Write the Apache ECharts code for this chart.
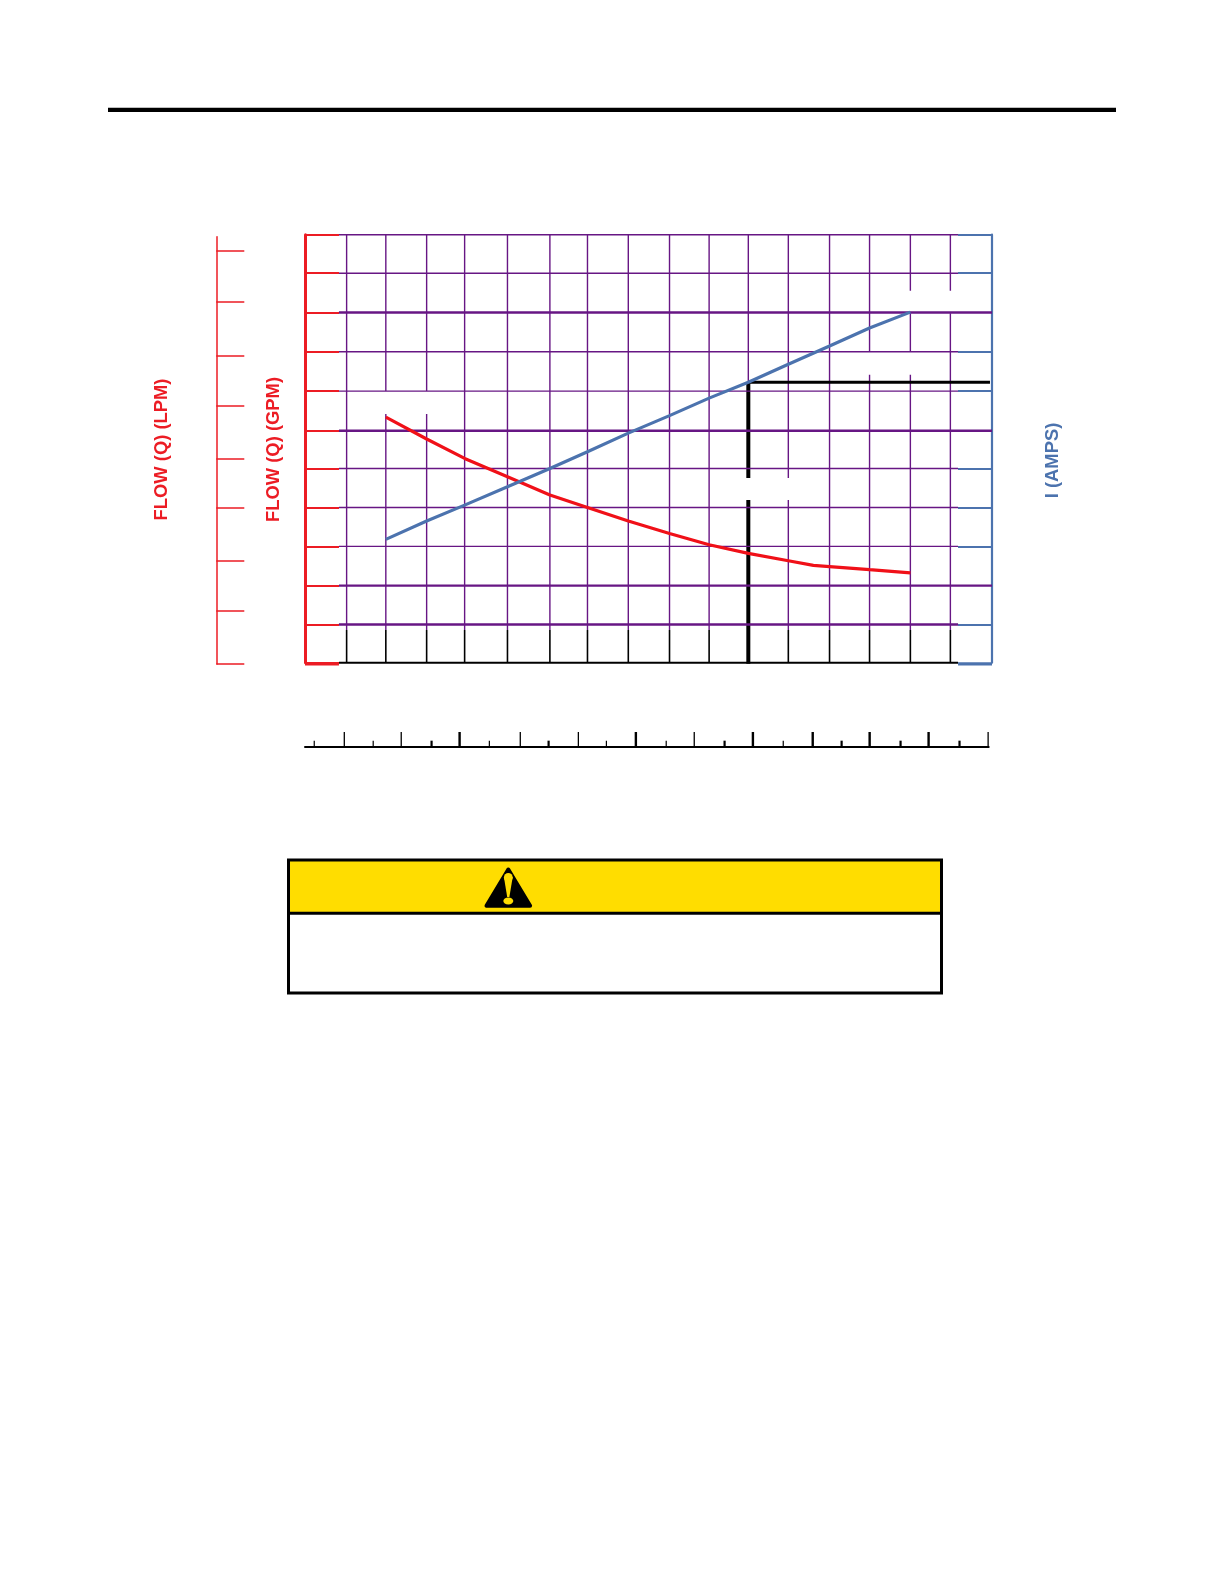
<!DOCTYPE html>
<html>
<head>
<meta charset="utf-8">
<style>html,body{margin:0;padding:0;background:#fff}#c{width:1224px;height:1584px}</style>
<script src="https://cdn.jsdelivr.net/npm/echarts@6/dist/echarts.min.js"></script>
</head>
<body>
<div id="c"></div>
<script>
// ---- data (axis units; the reference's tick labels are blanked out) ----
const verticalGrid = [1.03,2.00,3.01,3.95,5.01,6.06,6.99,8.00,9.02,10.00,10.97,11.96,12.98,13.97,14.98,15.97];
const horizontalThin = [11,10.01,7.99,6.98,4.99,3.99,2.99];
const horizontalThick = [9.00,5.96,1.98];
const horizontalThickShort = [0.98];
const flowX = [2.00,3.01,3.95,5.01,6.06,6.99,8.00,9.02,10.00,10.97,11.96,12.58,12.98,13.97,14.98];
const flowGpm = [6.31,5.75,5.25,4.78,4.31,3.99,3.64,3.32,3.03,2.81,2.62,2.50,2.47,2.39,2.31];
const ampsX = [2.00,3.01,3.95,5.01,6.06,6.99,8.00,9.02,10.00,10.97,11.96,12.98,13.97,14.98];
const amps = [3.17,3.64,4.05,4.52,4.99,5.42,5.90,6.35,6.80,7.21,7.67,8.14,8.60,9.01];
const operatingX = 10.97, operatingY = 7.21, operatingEndX = 16.95;
const lpmTicks = [0,1.03,2.01,3.02,3.98,5.01,5.98,7.01,8.00];
const lowerMajorThin = [1.36,3.33,7.45,9.46,13.47,23.64];
const lowerMajorThick = [5.35,11.45,15.50,17.57,19.54,21.58];
const lowerMinorThin = [0.32,2.36,6.38,10.43,12.50,16.55];
const lowerMinorThick = [4.38,8.43,14.52,18.57,20.61,22.65];
const blankedLabels = [[1.87,6.98,3.15,6.39],[13.15,7.99,15.40,7.40],[14.70,9.56,16.15,8.98],[10.85,4.75,12.10,4.18]];
const leftTicks = [0,0.98,1.98,2.99,3.99,4.99,5.96,6.98,7.99,9.00,10.01,11];
const rightTicks = [0.98,2.99,3.99,4.99,6.98,7.99,10.01,11];
const gridStart = 0.84, gridEnd = 16.16, stubTop = 0.84;

const PURPLE = '#671684', RED = '#ec1c24', BLUE = '#4c73ae';

function segments(list, color, width, z, grid) {
  const g = grid || 0;
  return {
    type: 'custom', coordinateSystem: 'cartesian2d', silent: true, clip: false, z: z,
    xAxisIndex: g === 0 ? 0 : 2, yAxisIndex: g === 0 ? 0 : 3,
    encode: {x: [0, 2], y: [1, 3]},
    data: list,
    renderItem: function (p, api) {
      const a = api.coord([api.value(0), api.value(1)]);
      const b = api.coord([api.value(2), api.value(3)]);
      return {type: 'line', shape: {x1: a[0], y1: a[1], x2: b[0], y2: b[1]},
              style: {stroke: color, lineWidth: width, fill: null}};
    }
  };
}
const masks = {
  type: 'custom', coordinateSystem: 'cartesian2d', silent: true, clip: false, z: 3,
  xAxisIndex: 0, yAxisIndex: 0, encode: {x: [0, 2], y: [1, 3]},
  data: blankedLabels,
  renderItem: function (p, api) {
    const a = api.coord([api.value(0), api.value(1)]);
    const b = api.coord([api.value(2), api.value(3)]);
    return {type: 'rect', shape: {x: a[0], y: a[1], width: b[0] - a[0], height: b[1] - a[1]},
            style: {fill: '#fff'}};
  }
};
const zip = (xs, ys) => xs.map((x, i) => [x, ys[i]]);
const vLines = (xs, a, b) => xs.map(x => [x, a, x, b]);
const hLines = (ys, a, b) => ys.map(y => [a, y, b, y]);
const rotText = (text, x, y, color) => ({
  type: 'text', x: x, y: y, rotation: Math.PI / 2, z: 20,
  style: {text: text, fill: color, align: 'center', verticalAlign: 'middle',
          font: 'bold 18.4px "Liberation Sans", Arial, sans-serif'}
});
const rule = (x1, y1, x2, y2, w) => ({type: 'line', z: 20, shape: {x1, y1, x2, y2},
  style: {stroke: '#000', lineWidth: w}});

const chart = echarts.init(document.getElementById('c'), null, {renderer: 'canvas'});
chart.setOption({
  animation: false,
  backgroundColor: '#fff',
  grid: [
    {left: 305, top: 234.7, width: 687, height: 428},
    {left: 216.3, top: 236.7, width: 28, height: 427.3},
    {left: 305, top: 732, width: 683.7, height: 14.7}
  ],
  xAxis: [
    {gridIndex: 0, type: 'value', min: 0, max: 17, show: false},
    {gridIndex: 1, type: 'value', min: 0, max: 1, show: false},
    {gridIndex: 2, type: 'value', min: 0, max: 23.66, position: 'bottom',
     axisLine: {show: true, onZero: false, lineStyle: {color: '#000', width: 2}},
     axisTick: {show: false}, axisLabel: {show: false}, splitLine: {show: false}}
  ],
  yAxis: [
    {gridIndex: 0, type: 'value', min: 0, max: 11, position: 'left',
     axisLine: {show: true, onZero: false, lineStyle: {color: RED, width: 3}},
     axisTick: {show: true, inside: true, length: 34, customValues: leftTicks, lineStyle: {color: RED, width: 2.2}},
     axisLabel: {show: false}, splitLine: {show: false}},
    {gridIndex: 0, type: 'value', min: 0, max: 11, position: 'right',
     axisLine: {show: true, onZero: false, lineStyle: {color: BLUE, width: 2.2}},
     axisTick: {show: true, inside: true, length: 34, customValues: rightTicks, lineStyle: {color: BLUE, width: 1.8}},
     axisLabel: {show: false}, splitLine: {show: false}},
    {gridIndex: 1, type: 'value', min: 0, max: 8.28, position: 'left',
     axisLine: {show: true, onZero: false, lineStyle: {color: RED, width: 1.5}},
     axisTick: {show: true, inside: true, length: 28, customValues: lpmTicks, lineStyle: {color: RED, width: 1.5}},
     axisLabel: {show: false}, splitLine: {show: false}},
    {gridIndex: 2, type: 'value', min: 0, max: 1, show: false}
  ],
  series: [
    segments(vLines(verticalGrid, stubTop, 11), PURPLE, 1.4, 1),
    segments(vLines(verticalGrid, 0, stubTop), '#000', 1.6, 1),
    {type: 'line', name: 'operating flow', xAxisIndex: 0, yAxisIndex: 0, z: 2, silent: true,
     showSymbol: false, lineStyle: {color: '#000', width: 4},
     data: [[operatingX, -0.03], [operatingX, operatingY]]},
    masks,
    segments(hLines(horizontalThin, gridStart, gridEnd), PURPLE, 1.4, 4),
    segments(hLines(horizontalThick, gridStart, 17), PURPLE, 2.4, 4),
    segments(hLines(horizontalThickShort, gridStart, gridEnd), PURPLE, 2.4, 4),
    segments(hLines([0], gridStart, gridEnd), '#000', 2, 4),
    segments(hLines([-0.03], 0, gridStart), RED, 3.4, 4),
    segments(hLines([-0.03], gridEnd, 17), BLUE, 3.4, 4),
    {type: 'line', name: 'operating amps', xAxisIndex: 0, yAxisIndex: 0, z: 5, silent: true,
     showSymbol: false, lineStyle: {color: '#000', width: 3},
     data: [[operatingX, operatingY], [operatingEndX, operatingY]]},
    {type: 'line', name: 'FLOW (Q)', xAxisIndex: 0, yAxisIndex: 0, z: 6, silent: true,
     showSymbol: false, lineStyle: {color: '#f01018', width: 3.2},
     data: zip(flowX, flowGpm)},
    {type: 'line', name: 'I (AMPS)', xAxisIndex: 0, yAxisIndex: 0, z: 7, silent: true,
     showSymbol: false, lineStyle: {color: BLUE, width: 3.2},
     data: zip(ampsX, amps)},
    segments(vLines(lowerMajorThin, 0, 1), '#000', 1.3, 4, 2),
    segments(vLines(lowerMajorThick, 0, 1), '#000', 2.4, 4, 2),
    segments(vLines(lowerMinorThin, 0, 0.41), '#000', 1.2, 4, 2),
    segments(vLines(lowerMinorThick, 0, 0.41), '#000', 2.2, 4, 2)
  ],
  graphic: {elements: [
    {type: 'rect', z: 20, shape: {x: 108, y: 107.7, width: 1008, height: 4.4}, style: {fill: '#000'}},
    rotText('FLOW (Q) (LPM)', 162, 449.5, RED),
    rotText('FLOW (Q) (GPM)', 273.7, 449.5, RED),
    rotText('I (AMPS)', 1053.3, 460.5, BLUE),
    {type: 'rect', z: 19, shape: {x: 288.5, y: 860, width: 653, height: 53.3}, style: {fill: '#ffdd00'}},
    {type: 'rect', z: 20, shape: {x: 288.5, y: 860, width: 653, height: 133},
     style: {fill: null, stroke: '#000', lineWidth: 3}},
    rule(288.5, 913.3, 941.5, 913.3, 3),
    {type: 'polygon', z: 21, shape: {points: [[508.3, 869.5], [486.5, 905.7], [530.1, 905.7]]},
     style: {fill: '#000', stroke: '#000', lineWidth: 4, lineJoin: 'round'}},
    {type: 'polygon', z: 22, shape: {points: [[503.9, 877], [512.7, 877], [509.4, 897], [507.2, 897]]},
     style: {fill: '#ffdd00'}},
    {type: 'circle', z: 22, shape: {cx: 508.3, cy: 877.4, r: 4.4}, style: {fill: '#ffdd00'}},
    {type: 'ellipse', z: 22, shape: {cx: 508.3, cy: 901, rx: 5, ry: 3.5}, style: {fill: '#ffdd00'}}
  ]}
});
</script>
</body>
</html>
